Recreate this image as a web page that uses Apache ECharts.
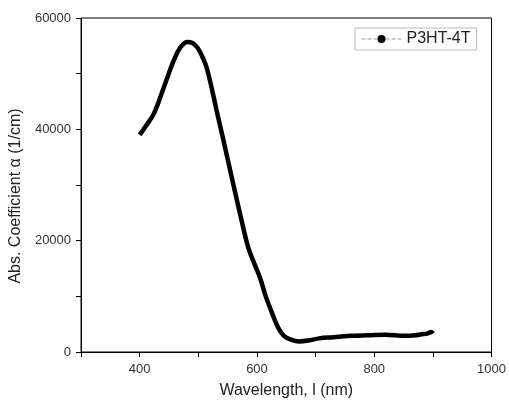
<!DOCTYPE html>
<html>
<head>
<meta charset="utf-8">
<script src="https://cdn.jsdelivr.net/npm/echarts@6/dist/echarts.min.js"></script>
<style>html,body{margin:0;padding:0;background:#fff;}#c{width:509px;height:404px;}</style>
</head>
<body>
<div id="c"></div>
<script>
const seriesName = 'P3HT-4T';
const wavelengths = [400, 410, 425, 442, 459, 470, 481, 490, 499, 507, 515, 532, 545, 558, 571, 585, 595, 605, 615, 622, 636, 646, 656, 672, 690, 706, 730, 762, 790, 819, 852, 870, 881, 890, 897, 900];
const absCoeff = [39000, 40500, 43000, 47800, 52600, 54800, 55700, 55500, 54600, 53000, 50800, 43000, 37000, 30900, 24900, 18800, 16000, 13400, 10000, 8000, 4400, 2900, 2300, 1900, 2100, 2450, 2650, 2900, 3000, 3100, 2900, 3000, 3200, 3300, 3600, 3300];
const xTicks = [400, 600, 800, 1000];
const yTicks = [0, 20000, 40000, 60000];

const font = '"Liberation Sans", Arial, sans-serif';
const chart = echarts.init(document.getElementById('c'), null, {renderer: 'canvas'});
chart.setOption({
  animation: false,
  backgroundColor: '#fff',
  grid: {left: 79, right: 15, top: 18, bottom: 52, show: true, borderColor: '#000', borderWidth: 1},
  legend: {
    left: 355, top: 28, padding: [3, 6, 3, 6],
    borderColor: '#bbb', borderWidth: 1,
    itemWidth: 40, itemHeight: 10,
    textStyle: {fontFamily: font, fontSize: 16, color: '#222'},
    data: [{name: seriesName,
      itemStyle: {color: '#000'},
      lineStyle: {color: '#999', type: 'dashed', width: 1}}]
  },
  xAxis: {
    type: 'value', min: 300, max: 1000, interval: 100,
    name: 'Wavelength, l (nm)', nameLocation: 'middle', nameGap: 31,
    nameTextStyle: {fontFamily: font, fontSize: 16, color: '#222'},
    axisLine: {lineStyle: {color: '#000', width: 1}},
    axisTick: {show: true, inside: false, length: 5, lineStyle: {color: '#000'}},
    splitLine: {show: false},
    axisLabel: {fontFamily: font, fontSize: 13, color: '#333', margin: 11, showMinLabel: true, showMaxLabel: true,
      formatter: v => xTicks.includes(v) ? String(v) : ''}
  },
  yAxis: {
    type: 'value', min: 0, max: 60000, interval: 10000,
    name: 'Abs. Coefficient α (1/cm)', nameLocation: 'middle', nameGap: 54,
    nameTextStyle: {fontFamily: font, fontSize: 16, color: '#222', padding: [0, 22, 0, 0]},
    axisLine: {show: true, lineStyle: {color: '#000', width: 1}},
    axisTick: {show: true, inside: false, length: 5, lineStyle: {color: '#000'}},
    splitLine: {show: false},
    axisLabel: {fontFamily: font, fontSize: 13, color: '#333', margin: 10,
      formatter: v => yTicks.includes(v) ? String(v) : ''}
  },
  series: [{
    name: seriesName, type: 'line', smooth: 0.4,
    data: wavelengths.map((w, i) => [w, absCoeff[i]]),
    symbol: 'circle', symbolSize: 5, showSymbol: false,
    itemStyle: {color: '#000'},
    lineStyle: {color: '#000', width: 4.5}
  }]
});
</script>
</body>
</html>
